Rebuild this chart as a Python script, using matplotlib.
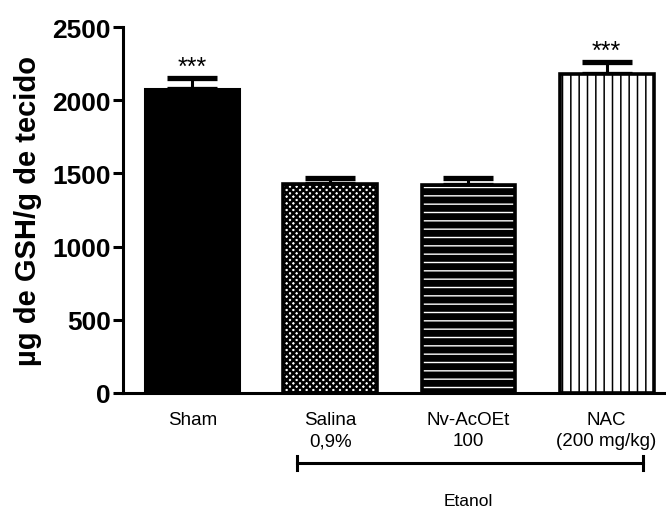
import numpy as np
import matplotlib.pyplot as plt
import matplotlib.transforms as mtrans

plt.rcParams['font.family'] = ['Liberation Sans', 'DejaVu Sans']

groups = ['Sham', 'Salina\n0,9%', 'Nv-AcOEt\n100', 'NAC\n(200 mg/kg)']
gsh = [2075, 1428, 1420, 2178]
sem = [78, 42, 52, 82]
stars = ['***', '', '', '***']

fig = plt.figure(figsize=(6.66, 5.10), dpi=100)
ax = fig.add_axes([0.185, 0.2275, 0.815, 0.7175])

x = np.arange(len(groups))
w = 0.68

# error bars first so the bars cover the lower half
ax.errorbar(x, gsh, yerr=[np.zeros(len(sem)), sem], fmt='none', ecolor='black',
            elinewidth=2.2, capsize=18, capthick=3.8, zorder=1)

ax.bar(x[0], gsh[0], w, color='black', edgecolor='black', lw=2.2, zorder=2)
with plt.rc_context({'hatch.linewidth': 1.8}):
    ax.bar(x[1], gsh[1], w, color='white', edgecolor='black', hatch='xxxxx', lw=0, zorder=2)
ax.bar(x[1], gsh[1], w, fill=False, edgecolor='black', lw=2.6, zorder=3)
with plt.rc_context({'hatch.linewidth': 1.0}):
    ax.bar(x[2], gsh[2], w, color='black', edgecolor='white', hatch='--', lw=0, zorder=2)
ax.bar(x[2], gsh[2], w, fill=False, edgecolor='black', lw=2.6, zorder=3)
with plt.rc_context({'hatch.linewidth': 1.1}):
    ax.bar(x[3], gsh[3], w, color='white', edgecolor='black', hatch='||', lw=0, zorder=2)
ax.bar(x[3], gsh[3], w, fill=False, edgecolor='black', lw=2.6, zorder=3)

for xi, v, e, s in zip(x, gsh, sem, stars):
    if s:
        ax.text(xi, v + e - 5, s, ha='center', va='bottom', fontsize=18)

ax.set_xlim(-0.5, 3.43)
ax.set_ylim(0, 2500)
ax.set_yticks([0, 500, 1000, 1500, 2000, 2500])
ax.set_xticks([])
ax.tick_params(axis='y', length=7, width=2.2, labelsize=19, pad=2)
for lab in ax.get_yticklabels():
    lab.set_fontweight('bold')
for side in ['top', 'right']:
    ax.spines[side].set_visible(False)
for side in ['left', 'bottom']:
    ax.spines[side].set_linewidth(2.2)
ax.set_ylabel('µg de GSH/g de tecido', fontsize=21, fontweight='bold', labelpad=7)

trans = mtrans.blended_transform_factory(ax.transData, ax.transAxes)
for xi, g in zip(x, groups):
    ax.text(xi, -0.05, g, transform=trans, ha='center', va='top', fontsize=13.5,
            linespacing=1.3)

ax.plot([0.76, 3.26], [-0.191, -0.191], transform=trans, color='black', lw=2.2, clip_on=False)
for xb in [0.76, 3.26]:
    ax.plot([xb, xb], [-0.172, -0.21], transform=trans, color='black', lw=2.2, clip_on=False)
ax.text(2.0, -0.295, 'Etanol', transform=trans, ha='center', va='center', fontsize=12.5)

fig.savefig('out.png', dpi=100)
